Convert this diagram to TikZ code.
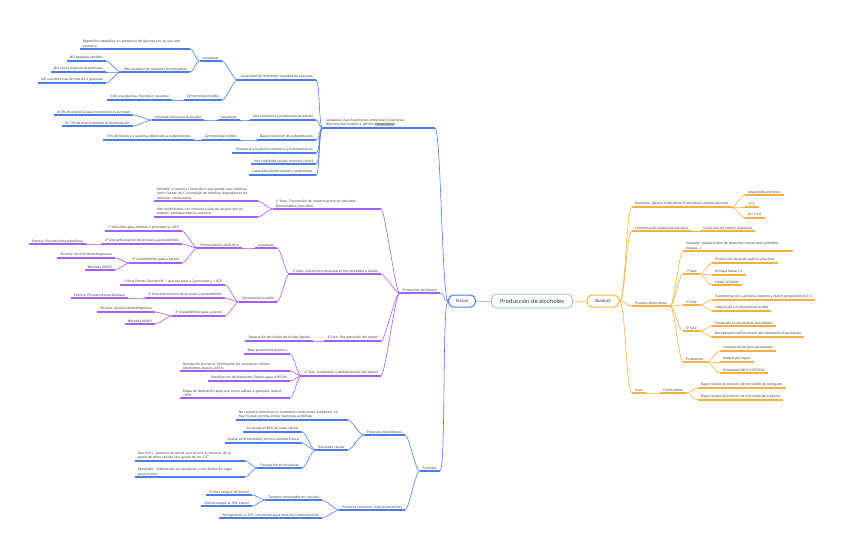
\documentclass[tikz,border=0pt]{standalone}
\usepackage{fontspec}
\setmainfont{Noto Sans}
\definecolor{azul}{HTML}{4A7CF0}
\definecolor{lila}{HTML}{A95CF4}
\definecolor{naranja}{HTML}{F7B13F}
\definecolor{texto}{HTML}{3A3A3A}
\definecolor{titulo}{HTML}{1C2B48}
\newcommand{\resalta}[1]{{\setlength{\fboxsep}{0.3pt}\colorbox{black!25}{\textbf{#1}}}}

\begin{document}
\begin{tikzpicture}[x=1pt,y=-1pt,
  izq/.style={anchor=south east,inner xsep=3pt,inner ysep=1pt,align=left,text=texto,font=\fontsize{3.35}{4.6}\selectfont},
  der/.style={izq,anchor=south west},
  caja/.style={draw=#1,rounded corners=5pt,line width=1pt,fill=white,text=titulo,inner sep=0pt,minimum height=12pt},
  rama/.style={line width=0.6pt},
  raya/.style={line width=1.1pt}]

\useasboundingbox (0,0) rectangle (848,556);

% centro
\node[caja=azul!45,minimum width=81pt,minimum height=14pt,font=\fontsize{5.6}{6}\selectfont\bfseries] (alc) at (532,301) {Producción de alcoholes};
\node[caja=azul,minimum width=27pt,font=\fontsize{4.2}{5}\selectfont] (etanol) at (462,301) {Etanol};
\node[caja=naranja,minimum width=32pt,font=\fontsize{4.2}{5}\selectfont\bfseries] (butanol) at (603,301) {Butanol};
\draw[azul!45,line width=1pt] (alc.west) -- (etanol.east);
\draw[naranja!60,line width=1pt] (alc.east) -- (butanol.west);

% etanol: levaduras / bacterias
\node[izq,text width=106pt] (levr) at (435,128) {Levaduras (Saccharomyces cerevisiae) o bacterias\\(Zymomonas mobilis y género \resalta{Clostridium})};
\node[izq] (cap) at (316,80) {Capacidad de fermentar variedad de azúcares};
\node[izq] (alt) at (316,120) {Alta tolerancia y producción de etanol};
\node[izq] (baj) at (316,140) {Baja producción de subproductos};
\node[izq] (tol) at (316,153) {Tolerancia a la presión osmótica y la temperatura};
\node[izq] (via) at (316,164) {Alta viabilidad celular (muchos ciclos)};
\node[izq] (flo) at (316,175) {Capacidad de floculación y sedimentar};
\node[izq] (lev1) at (222,61) {Levaduras};
\node[izq] (zym1) at (222,100) {Zymomonas mobilis};
\node[izq,text width=104pt] (rep) at (190,49) {Represión catabólica en presencia de glucosa (no se usa otro\\sustrato)};
\node[izq] (avar) at (190,72) {Alta variedad de sustratos fermentables};
\node[izq] (nod) at (106,61) {NO degrada almidón};
\node[izq] (nop) at (106,72) {NO usa la mayoría de pentosas};
\node[izq] (nodx) at (106,83) {NO usa dextrinas de más de 3 glucosas};
\node[izq] (solo) at (172,100) {Solo usa glucosa, fructosa y sacarosa};
\node[izq] (lev2) at (240,120) {Levaduras};
\node[izq] (lim) at (204,120) {Limitada tolerancia al alcohol};
\node[izq] (a8) at (133,115) {Al 8\% de etanol la tasa crecimiento es la mitad};
\node[izq] (a11) at (133,126) {Al 11\% de etanol detiene la fermentación};
\node[izq] (zym2) at (240,140) {Zymomonas mobilis};
\node[izq] (f10) at (194,140) {10\% de fructosa y sacarosa destinado a subproductos};

% etanol: produccion
\node[izq] (prod) at (440,293) {Producción del etanol};
\node[izq,text width=102pt] (f1) at (381,209) {1ª fase: Conversión de materia prima en azúcares\\fermentables (sencillos)};
\node[izq] (f2) at (381,274) {2ª fase: Conversión de azúcares fermentables a etanol};
\node[izq] (f3) at (381,341) {3ª fase: Recuperación del etanol};
\node[izq] (f4) at (381,376) {4ª fase: Destilación y deshidratación del etanol};
\node[izq,text width=98pt] (omi) at (258,201) {Omitible si usamos Clostridium que puede usar celulosa\\como fuente de C (complejo de enzimas degradantes de\\celulosa: celulosoma)};
\node[izq,text width=98pt] (alto) at (258,217) {Alto rendimiento con melazas (caña de azúcar) por no\\requerir pretratamientos costosos};
\node[izq] (lev3) at (277,248) {Levaduras};
\node[izq] (zym3) at (277,302) {Zymomonas mobilis};
\node[izq] (ferm) at (242,248) {Fermentación alcohólica};
\node[izq] (g1) at (182,231) {1ª Glucólisis para obtener 2 piruvatos y 2 ATP};
\node[izq] (d2) at (182,244) {2ª Descarboxilación de piruvato a acetaldehído};
\node[izq] (a3) at (182,263) {3ª Acetaldehído pasa a etanol};
\node[izq] (pdc1) at (86,244) {Enzima: Piruvato descarboxilasa};
\node[izq] (adh1) at (115,258) {Enzima: Alcohol deshidrogenasa};
\node[izq] (nadh1) at (115,270) {Necesita NADH};
\node[izq] (ed1) at (225,285) {1ª Ruta Entner-Doudoroff: 1 glucosa pasa a 2 piruvatos y 1 ATP};
\node[izq] (d2b) at (225,298) {2ª Descarboxilación de piruvato a acetaldehído};
\node[izq] (a3b) at (225,316) {3ª Acetaldehído pasa a etanol};
\node[izq] (pdc2) at (128,298) {Enzima: Piruvato descarboxilasa};
\node[izq] (adh2) at (155,312) {Enzima: Alcohol deshidrogenasa};
\node[izq] (nadh2) at (155,324) {Necesita NADH};
\node[izq] (sep) at (313,341) {Separación de células de la fase líquida};
\node[izq] (base) at (290,354) {Base puramente química};
\node[izq,text width=104pt] (dpri) at (290,371) {Destilación primaria: Eliminación de sustancias sólidas,\\obtenemos etanol al 85\%};
\node[izq] (rect) at (290,381) {Rectificación del destilado: Etanol-agua al 96,5\%};
\node[izq,text width=104pt] (etapa) at (290,398) {Etapa de destilación para uso como aditivo a gasolina: etanol\\>99\%};

% etanol: procesos
\node[izq] (proc) at (440,471) {Procesos};
\node[izq] (pdis) at (405,435) {Procesos discontinuos};
\node[izq] (pcon) at (405,510) {Procesos continuos (más productivos)};
\node[izq,text width=106pt] (noreq) at (348,420) {No requiere esterilizar (sí mantener condiciones asépticas), no\\hay Fe que permita crecer bacterias acidófilas};
\node[izq] (rec) at (348,450) {Reciclado celular};
\node[izq] (recoge) at (302,432) {Se recoge el 80\% de masa celular};
\node[izq] (vuelve) at (302,443) {Vuelve al fermentador junto a sustrato fresco};
\node[izq] (floc) at (302,468) {Floculación en levaduras};
\node[izq,text width=104pt] (gen) at (245,461) {Gen FLO1: proteína de pared que se une a manosas de la\\pared de otras células con ayuda de ion Ca\textsuperscript{2+}};
\node[izq,text width=104pt] (res) at (245,477) {Resultado: Sedimentan las levaduras y son fáciles de coger\\para reciclar};
\node[izq] (tan) at (322,500) {Tanques conectados en cascada};
\node[izq] (refr) at (322,518) {Refrigeración a 32ºC circulando agua interna o externamente};
\node[izq] (prim) at (252,495) {Primer tanque 4\% etanol};
\node[izq] (ult) at (252,506) {Último tanque al 10\% etanol};

% butanol
\node[der] (bac) at (632,207) {Bacterias: género Clostridium (Clostridium acetobutylicum)};
\node[der] (anae) at (745,195) {Anaerobios estrictos};
\node[der] (t37) at (745,207) {37ºC};
\node[der] (ph) at (745,218) {pH 7-5,6};
\node[der] (fab) at (632,231) {Fermentación acetona-butanólica};
\node[der] (unica) at (700,231) {Única ruta de interés industrial};
\node[der] (pdc) at (632,306) {Proceso discontinuo};
\node[der,text width=104pt] (sus) at (683,251) {Sustrato: polisacáridos de desechos industriales (almidón,\\melaza...)};
\node[der] (f1b) at (683,274) {1ª fase};
\node[der] (f2b) at (683,305) {2ª fase};
\node[der] (f3b) at (683,331) {3ª fase};
\node[der] (prob) at (683,362) {Problemas:};
\node[der] (acid) at (712,263) {Producción de ácido acético y butírico};
\node[der] (phb) at (712,275) {pH baja hasta 5,2};
\node[der] (h18) at (712,285) {Hasta 18 horas};
\node[der] (trans) at (712,300) {Transformación a acetona, butanol y etanol (proporción 6:3:1)};
\node[der] (sube) at (712,311) {Sube el pH a 6 (eliminamos ácido)};
\node[der] (fin) at (712,326) {Finalizado el crecimiento microbiano};
\node[der] (recu) at (712,337) {Recuperación del producto por destilación fraccionada};
\node[der] (cont) at (720,351) {Contaminación por lactobacilos};
\node[der] (fag) at (720,362) {Ataque por fagos};
\node[der] (dest) at (720,373) {Destilación MUY COSTOSA};
\node[der] (usos) at (632,393) {Usos};
\node[der] (comb) at (660,393) {Combustible};
\node[der] (nit) at (698,388) {Bajos niveles de emisión de monóxido de nitrógeno};
\node[der] (carb) at (698,400) {Bajos niveles de emisión de monóxido de carbono};

% ramas desde las cajas
\foreach \c/\col in {levr/azul, prod/lila, proc/azul} {
  \draw[rama,\col] (etanol.west) to[out=180,in=0,distance=6pt] (\c.south east);
  \draw[raya,\col] (\c.south west) -- (\c.south east);
}
\foreach \c in {bac, fab, pdc, usos} {
  \draw[rama,naranja] (butanol.east) to[out=0,in=180,distance=6pt] (\c.south west);
  \draw[raya,naranja] (\c.south west) -- (\c.south east);
}

% ramas azules
\foreach \p/\c in {levr/cap, levr/alt, levr/baj, levr/tol, levr/via, levr/flo,
    cap/lev1, cap/zym1, lev1/rep, lev1/avar, avar/nod, avar/nop, avar/nodx, zym1/solo,
    alt/lev2, lev2/lim, lim/a8, lim/a11, baj/zym2, zym2/f10,
    proc/pdis, proc/pcon, pdis/noreq, pdis/rec, rec/recoge, rec/vuelve, rec/floc,
    floc/gen, floc/res, pcon/tan, pcon/refr, tan/prim, tan/ult} {
  \draw[rama,azul] (\p.south west) to[out=180,in=0,distance=4pt] (\c.south east);
  \draw[raya,azul] (\c.south west) -- (\c.south east);
}

% ramas lilas
\foreach \p/\c in {prod/f1, prod/f2, prod/f3, prod/f4, f1/omi, f1/alto, f2/lev3, f2/zym3,
    lev3/ferm, ferm/g1, ferm/d2, ferm/a3, d2/pdc1, a3/adh1, a3/nadh1,
    zym3/ed1, zym3/d2b, zym3/a3b, d2b/pdc2, a3b/adh2, a3b/nadh2,
    f3/sep, f4/base, f4/dpri, f4/rect, f4/etapa} {
  \draw[rama,lila] (\p.south west) to[out=180,in=0,distance=4pt] (\c.south east);
  \draw[raya,lila] (\c.south west) -- (\c.south east);
}

% ramas naranjas
\foreach \p/\c in {bac/anae, bac/t37, bac/ph, fab/unica, pdc/sus, pdc/f1b, pdc/f2b, pdc/f3b, pdc/prob,
    f1b/acid, f1b/phb, f1b/h18, f2b/trans, f2b/sube, f3b/fin, f3b/recu,
    prob/cont, prob/fag, prob/dest, usos/comb, comb/nit, comb/carb} {
  \draw[rama,naranja] (\p.south east) to[out=0,in=180,distance=4pt] (\c.south west);
  \draw[raya,naranja] (\c.south west) -- (\c.south east);
}
\end{tikzpicture}
\end{document}
